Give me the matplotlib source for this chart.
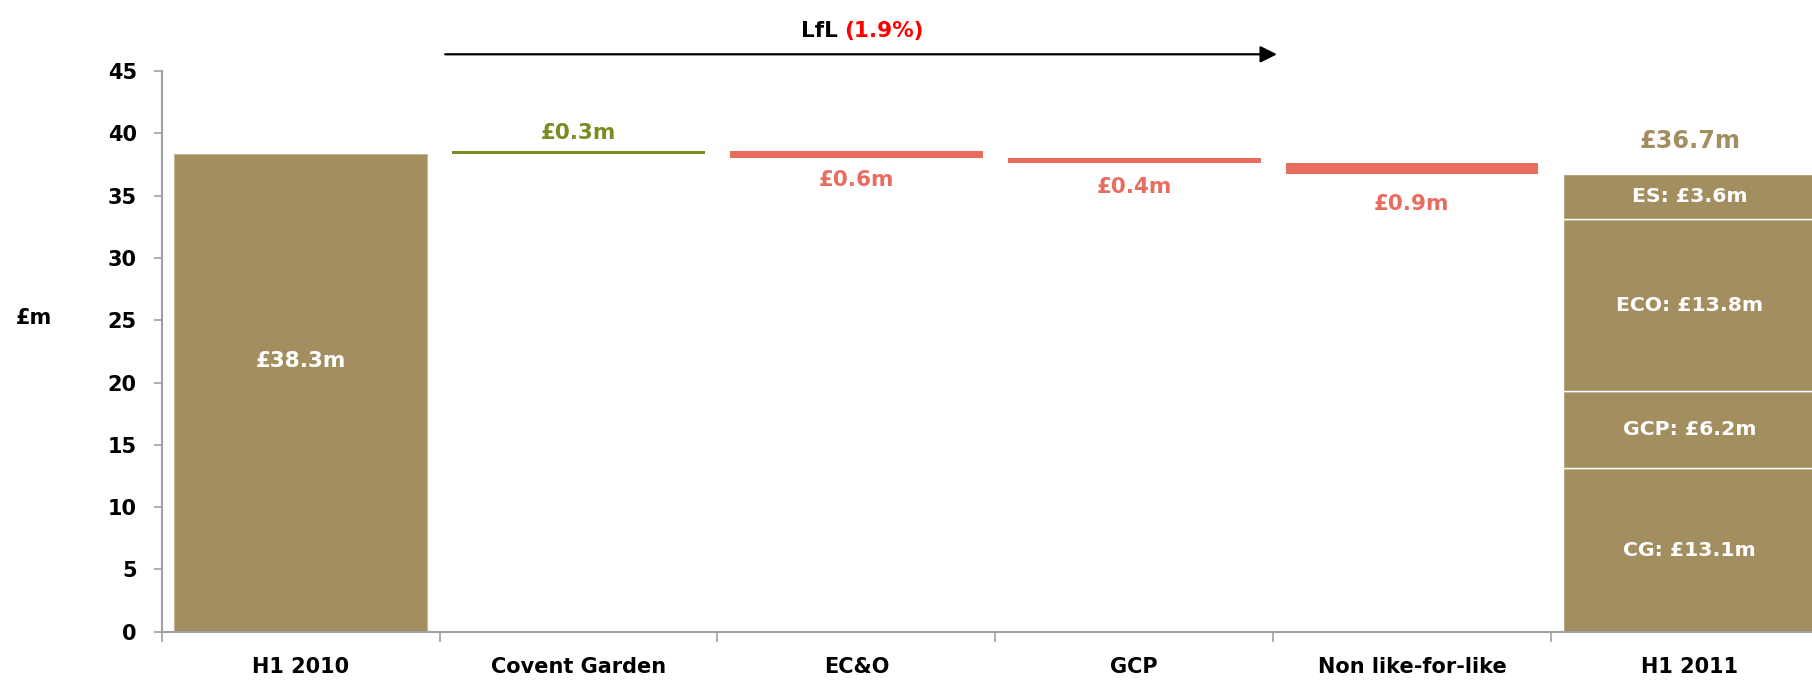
import matplotlib
matplotlib.use("Agg")
import matplotlib.pyplot as plt
from matplotlib.ticker import FixedLocator

categories = ["H1 2010", "Covent Garden", "EC&O", "GCP", "Non like-for-like", "H1 2011"]
start_value = 38.3
changes = [0.3, -0.6, -0.4, -0.9]
segment_names = ["CG", "GCP", "ECO", "ES"]
segment_values = [13.1, 6.2, 13.8, 3.6]
yticks = [0, 5, 10, 15, 20, 25, 30, 35, 40, 45]
lfl_text = "(1.9%)"

tan = "#A38E5F"
green = "#7A8B21"
red = "#E86D5E"
axis_grey = "#A0A0A0"

plt.rcParams["font.family"] = ["DejaVu Sans"]
plt.rcParams["font.weight"] = "bold"

fig = plt.figure(figsize=(18.12, 6.8), dpi=100)
ax = fig.add_axes([0.0893, 0.0710, 0.9199, 0.8246])

width = 0.91

# opening total
ax.bar(0, start_value, width=width, color=tan, edgecolor="#C8B890", linewidth=0.8)
ax.annotate(f"£{start_value:.1f}m", (0, start_value / 2), xytext=(0, 23),
            textcoords="offset points", ha="center", va="center",
            color="white", fontsize=15.5, fontweight="bold")

# floating change bars
label_offsets = [13, -16, -17, -21]
level = start_value
for i, d in enumerate(changes):
    x = i + 1
    bottom = min(level, level + d)
    col = green if d > 0 else red
    ax.bar(x, abs(d), bottom=bottom, width=width, color=col, linewidth=0)
    edge = bottom + abs(d) if d > 0 else bottom
    ax.annotate(f"£{abs(d):.1f}m", (x, edge), xytext=(0, label_offsets[i]),
                textcoords="offset points", ha="center", va="center",
                color=col, fontsize=15.5, fontweight="bold")
    level += d

# closing total split by estate
end_x = len(categories) - 1
bottom = 0
for name, v in zip(segment_names, segment_values):
    ax.bar(end_x, v, bottom=bottom, width=width, color=tan, edgecolor="white", linewidth=1)
    ax.text(end_x, bottom + v / 2, f"{name}: £{v:.1f}m", ha="center", va="center",
            color="white", fontsize=14.7, fontweight="bold")
    bottom += v
ax.annotate(f"£{bottom:.1f}m", (end_x, bottom), xytext=(0, 24),
            textcoords="offset points", ha="center", va="center",
            color=tan, fontsize=17.3, fontweight="bold")

ax.set_xlim(-0.5, len(categories) - 0.5)
ax.set_ylim(0, 45)
ax.set_yticks(yticks)
ax.set_xticks(range(len(categories)))
ax.set_xticklabels(categories, fontsize=15, fontweight="bold")
ax.xaxis.set_minor_locator(FixedLocator([i + 0.5 for i in range(-1, len(categories))]))
ax.tick_params(axis="x", which="major", length=0, pad=18)
ax.tick_params(axis="x", which="minor", length=7, width=1.2, color=axis_grey, direction="out")
ax.tick_params(axis="y", length=6, width=1.2, color=axis_grey, pad=12, labelsize=15)
for lab in ax.get_yticklabels():
    lab.set_fontweight("bold")

for s in ["top", "right"]:
    ax.spines[s].set_visible(False)
for s in ["left", "bottom"]:
    ax.spines[s].set_color(axis_grey)
    ax.spines[s].set_linewidth(1.5)

fig.text(34 / 1812, 1 - 318 / 680, "£m", ha="center", va="center",
         fontsize=15, fontweight="bold", color="black")

# like-for-like arrow over the change bars
ax.annotate("", xy=(3.514, 46.34), xytext=(0.52, 46.34), annotation_clip=False,
            arrowprops=dict(arrowstyle="-|>,head_length=0.5,head_width=0.25",
                            mutation_scale=20, color="black", lw=1.6, shrinkA=0, shrinkB=0))
fig.text(838 / 1812, 1 - 31 / 680, "LfL", ha="right", va="center",
         fontsize=15.5, fontweight="bold", color="black")
fig.text(844 / 1812, 1 - 31 / 680, lfl_text, ha="left", va="center",
         fontsize=15.5, fontweight="bold", color="#FF0000")

fig.savefig("out.png", dpi=100)
